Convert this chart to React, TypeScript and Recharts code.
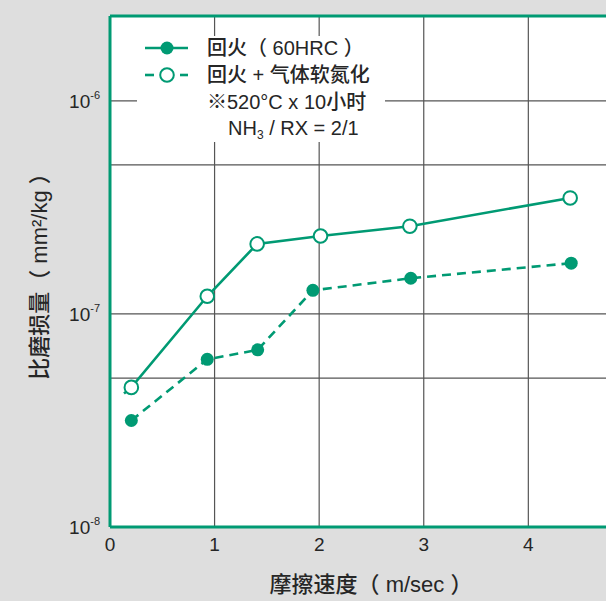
import React from "react";
import {
  LineChart,
  Line,
  XAxis,
  YAxis,
  CartesianGrid,
  ReferenceLine,
} from "recharts";

// solid line, open markers (upper curve)
const speedSolid = [0.134, 0.204, 0.93, 1.407, 2.013, 2.867, 4.4];
const wearSolid = [4.23e-8, 4.52e-8, 1.21e-7, 2.13e-7, 2.32e-7, 2.58e-7, 3.5e-7];

// dashed line, filled markers (lower curve)
const speedDashed = [0.204, 0.93, 1.412, 1.94, 2.876, 4.41];
const wearDashed = [3.16e-8, 6.12e-8, 6.78e-8, 1.29e-7, 1.47e-7, 1.73e-7];

const xTicks = [0, 1, 2, 3, 4];
const yTicks = [1e-8, 1e-7, 1e-6];
const gridY = [5e-8, 1e-7, 5e-7, 1e-6];
const gridX = [1, 2, 3, 4];
const yMin = 1e-8;
const yMax = 2.5e-6;

const legendLabels = ["回火（ 60HRC ）", "回火 + 气体软氮化", "※520°C x 10小时"];

const GREEN = "#009a73";
const TEXT = "#262626";
const FONT = "'Liberation Sans', Arial, 'Noto Sans CJK SC', sans-serif";

const solidData = speedSolid.map((s, i) => ({ speed: s, wear: wearSolid[i] }));
const dashedData = speedDashed.map((s, i) => ({ speed: s, wear: wearDashed[i] }));

const OpenDot = (props: any) => {
  const { cx, cy, index } = props;
  if (index === 0) return <g key={`o-${index}`} />; // leading stub, no marker
  return (
    <circle key={`o-${index}`} cx={cx} cy={cy} r={6.8} fill="#fff" stroke={GREEN} strokeWidth={2} />
  );
};

const FilledDot = (props: any) => {
  const { cx, cy, index } = props;
  return <circle key={`f-${index}`} cx={cx} cy={cy} r={6.5} fill={GREEN} stroke="none" />;
};

const YTick = (props: any) => {
  const { x, y, payload } = props;
  const exp = Math.round(Math.log10(payload.value));
  return (
    <text x={x - 10} y={y + 7} textAnchor="end" fill={TEXT} fontSize={19} fontFamily={FONT}>
      <tspan>10</tspan>
      <tspan dy={-9} fontSize={11}>{exp}</tspan>
    </text>
  );
};

export default function App() {
  return (
    <div
      style={{
        position: "fixed",
        left: 0,
        top: 0,
        width: 606,
        height: 601,
        overflow: "hidden",
        background: "#dedede",
        fontFamily: FONT,
      }}
    >
      <LineChart
        width={620}
        height={601}
        margin={{ top: 16, right: 8, bottom: 0, left: 0 }}
      >
        <CartesianGrid
          fill="#fff"
          stroke="#555"
          strokeWidth={1.2}
          horizontalValues={gridY}
          verticalValues={gridX}
        />
        <XAxis
          type="number"
          dataKey="speed"
          domain={[0, 4.8]}
          ticks={xTicks}
          allowDataOverflow
          height={74}
          tickLine={false}
          tickSize={0}
          tickMargin={11}
          axisLine={{ stroke: GREEN, strokeWidth: 3 }}
          tick={{ fill: TEXT, fontSize: 19, fontFamily: FONT }}
        />
        <YAxis
          type="number"
          dataKey="wear"
          scale="log"
          domain={[yMin, yMax]}
          ticks={yTicks}
          allowDataOverflow
          width={110}
          tickLine={false}
          tickSize={0}
          tickMargin={0}
          axisLine={{ stroke: GREEN, strokeWidth: 3 }}
          tick={<YTick />}
        />
        <ReferenceLine y={yMax} stroke={GREEN} strokeWidth={3} />
        <Line
          data={solidData}
          dataKey="wear"
          type="linear"
          stroke={GREEN}
          strokeWidth={2.6}
          dot={<OpenDot />}
          activeDot={false}
          isAnimationActive={false}
        />
        <Line
          data={dashedData}
          dataKey="wear"
          type="linear"
          stroke={GREEN}
          strokeWidth={2.6}
          strokeDasharray="9 6"
          dot={<FilledDot />}
          activeDot={false}
          isAnimationActive={false}
        />
      </LineChart>

      {/* legend box */}
      <svg
        width={248}
        height={106}
        style={{ position: "absolute", left: 137, top: 36, background: "#fff" }}
      >
        <line x1={8} y1={12} x2={51} y2={12} stroke={GREEN} strokeWidth={2.6} />
        <circle cx={30} cy={12} r={6.5} fill={GREEN} />
        <line x1={8} y1={39} x2={17} y2={39} stroke={GREEN} strokeWidth={2.6} />
        <line x1={43} y1={39} x2={51} y2={39} stroke={GREEN} strokeWidth={2.6} />
        <circle cx={30} cy={39} r={6.8} fill="#fff" stroke={GREEN} strokeWidth={2} />
        <g fill={TEXT} fontSize={20} fontWeight={500} fontFamily={FONT}>
          <text x={70} y={19}>{legendLabels[0]}</text>
          <text x={70} y={46}>{legendLabels[1]}</text>
          <text x={70} y={73}>{legendLabels[2]}</text>
          <text x={91} y={99}>
            <tspan>NH</tspan>
            <tspan fontSize={12} dy={4}>3</tspan>
            <tspan dy={-4}> / RX = 2/1</tspan>
          </text>
        </g>
      </svg>

      <div
        style={{
          position: "absolute",
          left: 37,
          top: 271,
          transform: "translate(-50%, -50%) rotate(-90deg)",
          whiteSpace: "nowrap",
          fontSize: 22,
          fontWeight: 500,
          color: TEXT,
        }}
      >
        比磨损量（ mm²/kg ）
      </div>
      <div
        style={{
          position: "absolute",
          left: 371,
          top: 585,
          transform: "translate(-50%, -50%)",
          whiteSpace: "nowrap",
          fontSize: 22,
          fontWeight: 500,
          lineHeight: 1.2,
          color: TEXT,
        }}
      >
        摩擦速度（ m/sec ）
      </div>
    </div>
  );
}
